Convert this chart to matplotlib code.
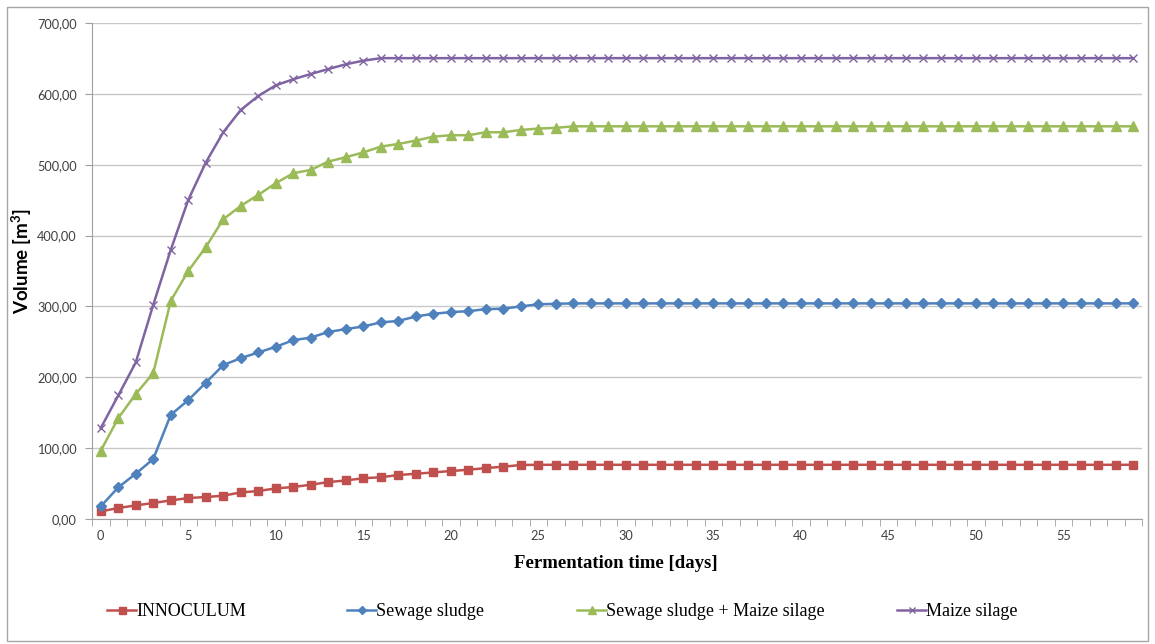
import numpy as np
import matplotlib.pyplot as plt
from matplotlib.lines import Line2D
from matplotlib.patches import Rectangle
from matplotlib.ticker import FuncFormatter, MultipleLocator

days = list(range(60))

innoculum = [10.7, 15.5, 19.2, 22.6, 26.2, 29.6, 31.0, 32.9, 37.5, 39.5,
             43.2, 45.1, 48.4, 52.1, 54.4, 57.5, 58.9, 62.0, 63.9, 65.7,
             67.7, 69.5, 71.9, 73.8, 76.2, 76.5, 76.5, 76.5, 76.5, 76.5,
             76.5, 76.5, 76.5, 76.5, 76.5, 76.5, 76.5, 76.5, 76.5, 76.5,
             76.5, 76.5, 76.5, 76.5, 76.5, 76.5, 76.5, 76.5, 76.5, 76.5,
             76.5, 76.5, 76.5, 76.5, 76.5, 76.5, 76.5, 76.5, 76.5, 76.5]

sewage = [17.8, 44.6, 63.9, 84.6, 147.0, 167.8, 192.2, 217.2, 227.0, 235.0,
          243.0, 252.4, 256.0, 264.0, 268.0, 271.7, 277.5, 279.5, 285.8, 289.6,
          292.0, 293.3, 296.2, 296.8, 300.0, 303.0, 303.7, 304.3, 304.3, 304.3,
          304.3, 304.3, 304.3, 304.3, 304.3, 304.3, 304.3, 304.3, 304.3, 304.3,
          304.3, 304.3, 304.3, 304.3, 304.3, 304.3, 304.3, 304.3, 304.3, 304.3,
          304.3, 304.3, 304.3, 304.3, 304.3, 304.3, 304.3, 304.3, 304.3, 304.3]

sewage_maize = [96.3, 142.4, 176.3, 205.9, 307.9, 350.0, 383.6, 423.0, 441.9, 457.4,
                473.9, 488.0, 492.7, 504.4, 510.6, 517.3, 525.5, 529.3, 534.0, 539.6,
                541.6, 541.6, 545.8, 545.8, 549.0, 551.0, 552.0, 554.2, 554.2, 554.2,
                554.2, 554.2, 554.2, 554.2, 554.2, 554.2, 554.2, 554.2, 554.2, 554.2,
                554.2, 554.2, 554.2, 554.2, 554.2, 554.2, 554.2, 554.2, 554.2, 554.2,
                554.2, 554.2, 554.2, 554.2, 554.2, 554.2, 554.2, 554.2, 554.2, 554.2]

maize = [128.3, 174.3, 220.9, 302.3, 379.8, 450.3, 503.0, 545.8, 577.3, 597.0,
         612.0, 620.6, 628.0, 635.0, 641.7, 646.8, 650.4, 650.4, 650.4, 650.4,
         650.4, 650.4, 650.4, 650.4, 650.4, 650.4, 650.4, 650.4, 650.4, 650.4,
         650.4, 650.4, 650.4, 650.4, 650.4, 650.4, 650.4, 650.4, 650.4, 650.4,
         650.4, 650.4, 650.4, 650.4, 650.4, 650.4, 650.4, 650.4, 650.4, 650.4,
         650.4, 650.4, 650.4, 650.4, 650.4, 650.4, 650.4, 650.4, 650.4, 650.4]

series = [
    ("INNOCULUM", innoculum, "#C0504D", "s", 6.3),
    ("Sewage sludge", sewage, "#4F81BD", "D", 4.8),
    ("Sewage sludge + Maize silage", sewage_maize, "#9BBB59", "^", 7.0),
    ("Maize silage", maize, "#8064A2", "x", 6.0),
]

fig = plt.figure(figsize=(11.55, 6.44), dpi=100)
ax = fig.add_axes([92 / 1155, 1 - 519 / 644, (1142 - 92) / 1155, (519 - 23) / 644])

handles = []
for name, vals, col, mk, ms in series:
    ax.plot(days, vals, color=col, lw=1.8, marker=mk, markersize=ms,
            markeredgewidth=1.0, markeredgecolor=col, markerfacecolor=col,
            clip_on=False, zorder=3)
    handles.append((name, col, mk, ms))

ax.set_xlim(-0.5, 59.5)
ax.set_ylim(0, 700)

# y axis
ax.yaxis.set_major_locator(MultipleLocator(100))
ax.yaxis.set_major_formatter(FuncFormatter(lambda v, p: f"{v:.2f}".replace(".", ",")))
ax.grid(axis="y", color="#c8c8c8", lw=1)
ax.set_axisbelow(True)
ax.tick_params(axis="y", direction="out", length=5, color="#a0a0a0",
               labelsize=9.2, labelcolor="#404040", pad=6)

# x axis: labels every 5, tick marks between categories
ax.set_xticks(range(0, 60, 5))
ax.set_xticks(np.arange(-0.5, 60, 1), minor=True)
ax.tick_params(axis="x", which="major", length=0, labelsize=9.2,
               labelcolor="#404040", pad=8)
ax.tick_params(axis="x", which="minor", direction="out", length=5, color="#a0a0a0")

for lab in ax.get_xticklabels() + ax.get_yticklabels():
    lab.set_family("Lato")

for s in ["top", "right"]:
    ax.spines[s].set_visible(False)
for s in ["left", "bottom"]:
    ax.spines[s].set_color("#a0a0a0")

ax.set_ylabel("Volume [m$^\\mathregular{3}$]", fontsize=13.5, fontweight="bold",
              family="Lato")
ax.yaxis.set_label_coords((34 - 92) / 1050, 0.52)
fig.text(616 / 1155, 1 - 563 / 644, "Fermentation time [days]", ha="center",
         va="center", fontsize=13.5, fontweight="bold", family="Liberation Serif")

# legend entries placed along the bottom
leg_x = [105, 345, 575, 895]
for (name, col, mk, ms), lx in zip(handles, leg_x):
    h = Line2D([], [], color=col, lw=1.8, marker=mk, markersize=ms * 0.8,
               markerfacecolor=col, markeredgecolor=col)
    fig.legend([h], [name], loc="center left",
               bbox_to_anchor=(lx / 1155 - 0.012, 1 - 612 / 644),
               frameon=False, handlelength=1.6, handletextpad=0.0,
               prop={"family": "Liberation Serif", "size": 13})

fig.patches.append(Rectangle((7 / 1155, 1 - 641 / 644), (1148 - 7) / 1155,
                             (641 - 7) / 644, transform=fig.transFigure,
                             fill=False, edgecolor="#a6a6a6", lw=1))

fig.savefig("out.png", dpi=100)
